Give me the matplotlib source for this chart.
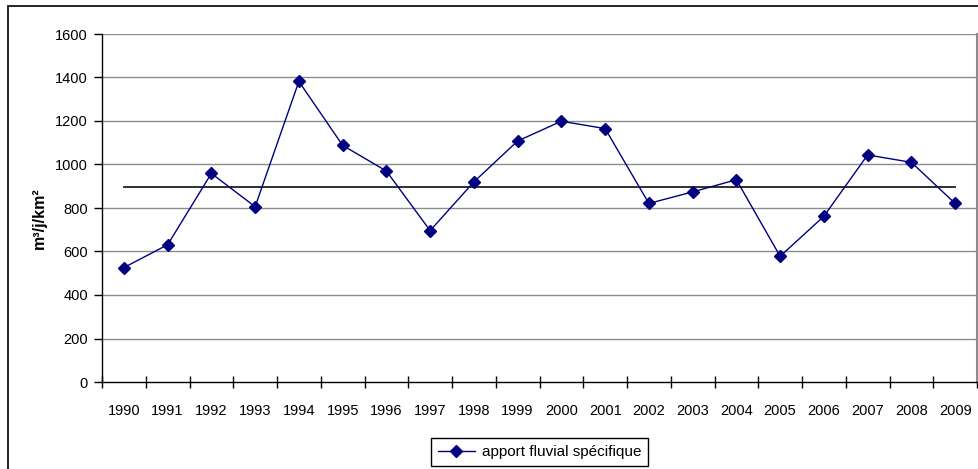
import matplotlib.pyplot as plt
import numpy as np
from matplotlib.patches import Rectangle

plt.rcParams["font.family"] = ["Liberation Sans", "DejaVu Sans"]

# données
annees = ["1990", "1991", "1992", "1993", "1994", "1995", "1996", "1997", "1998", "1999",
          "2000", "2001", "2002", "2003", "2004", "2005", "2006", "2007", "2008", "2009"]
apport = [526, 631, 959, 806, 1382, 1088, 970, 696, 920, 1108,
          1199, 1165, 821, 874, 930, 578, 762, 1044, 1010, 821]
moyenne = 898
y_ticks = [0, 200, 400, 600, 800, 1000, 1200, 1400, 1600]

W, H = 979, 469
fig = plt.figure(figsize=(W / 100, H / 100), dpi=100)
ax = fig.add_axes([102 / W, 1 - 382 / H, 875 / W, 348 / H])

x = np.arange(len(annees))

# grille horizontale
for v in y_ticks[1:]:
    ax.axhline(v, color="#8c8c8c", linewidth=1.0, zorder=1)

ax.plot(x, np.full(len(x), moyenne), color="#202020", linewidth=1.3, zorder=2)
ax.plot(x, apport, color="#000080", linewidth=1.0, marker="D", markersize=5.8,
        markerfacecolor="#000080", markeredgecolor="#000080",
        label="apport fluvial spécifique", zorder=3)

ax.set_xlim(-0.5, len(annees) - 0.5)
ax.set_ylim(0, 1600)
ax.set_yticks(y_ticks)
ax.tick_params(axis="y", direction="out", length=6, width=1, pad=4, labelsize=10.5)

ax.set_xticks(x)
ax.set_xticklabels(annees)
ax.set_xticks(np.arange(len(annees) + 1) - 0.5, minor=True)
ax.tick_params(axis="x", which="major", length=0, pad=16, labelsize=10.5)
ax.tick_params(axis="x", which="minor", direction="inout", length=8, width=1)

for s in ["left", "bottom"]:
    ax.spines[s].set_color("black")
    ax.spines[s].set_linewidth(1.0)
ax.spines["top"].set_visible(False)
ax.spines["right"].set_color("#8c8c8c")
ax.spines["right"].set_linewidth(1.5)

ax.set_ylabel("m³/j/km²", fontsize=11.5, fontweight="bold")
ax.yaxis.set_label_coords(-0.063, 0.47)

leg = ax.legend(loc="center", bbox_to_anchor=(539.5 / W, 1 - 452 / H),
                bbox_transform=fig.transFigure, fontsize=11, fancybox=False,
                framealpha=1, edgecolor="black", handlelength=2.4,
                borderpad=0.45, handletextpad=0.45)
leg.get_frame().set_linewidth(1.0)

# cadre extérieur du graphique
fig.patches.append(Rectangle((8 / W, -1), 5, 1 - 6 / H + 1, transform=fig.transFigure,
                             fill=False, edgecolor="black", linewidth=1.2))

fig.savefig("out.png", dpi=100)
